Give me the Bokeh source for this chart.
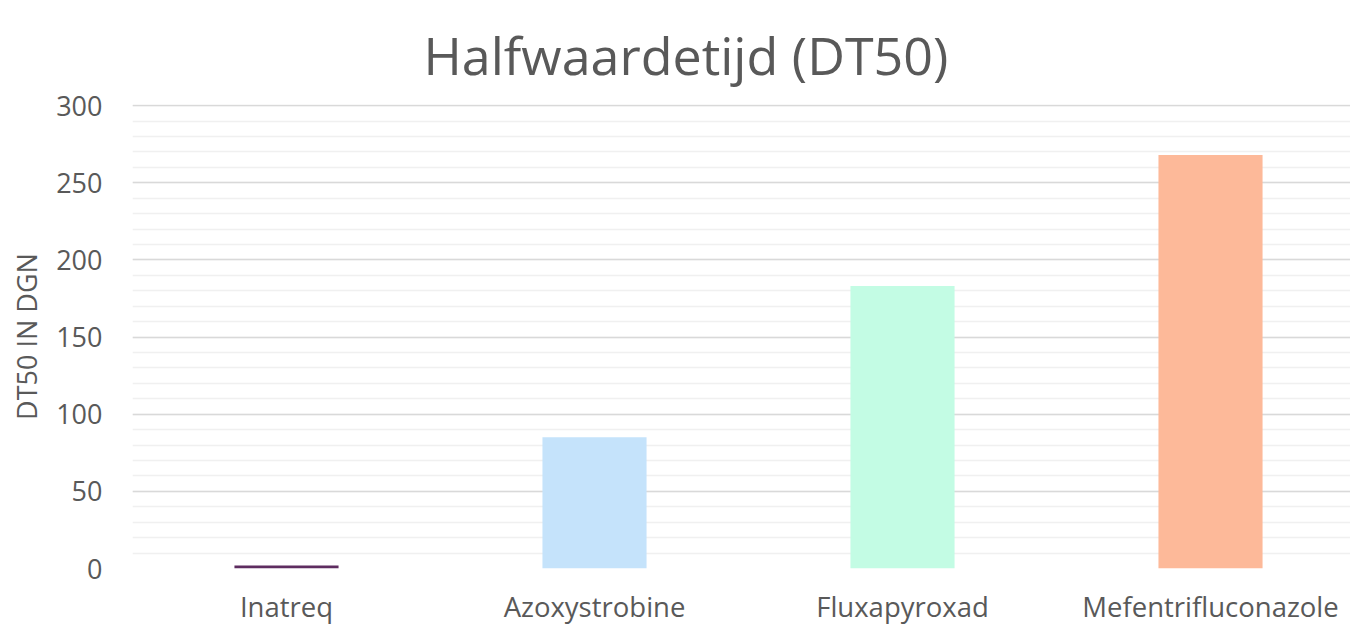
from bokeh.plotting import figure
from bokeh.models import Title, FixedTicker, Range1d
from bokeh.embed import file_html
from bokeh.resources import INLINE

categories = ["Inatreq", "Azoxystrobine", "Fluxapyroxad", "Mefentrifluconazole"]
values = [2, 85, 183, 268]
colors = ["#5e2d60", "#c5e3fb", "#c3fce4", "#fdb999"]
y_ticks = [0, 50, 100, 150, 200, 250, 300]
minor_ticks = [v for v in range(0, 301, 10)]
title_text = "Halfwaardetijd (DT50)"

FONT = "Open Sans"
GREY = "#595959"

xpos = list(range(len(categories)))

p = figure(x_range=Range1d(-0.5, 3.4545), y_range=Range1d(0, 300.7), width=1350, height=628,
           output_backend="svg", toolbar_location=None, title=None,
           min_border_left=132, min_border_right=0, min_border_top=104, min_border_bottom=60)
p.outline_line_color = None

t = Title(text=title_text, align="left", offset=291, text_font=FONT,
          text_font_size="52px", text_color=GREY, text_font_style="normal",
          standoff=30, text_line_height=0.8)
p.add_layout(t, "above")

p.vbar(x=xpos, top=values, width=0.338, color=colors, line_color=None)

p.xgrid.grid_line_color = None
p.ygrid.ticker = FixedTicker(ticks=y_ticks, minor_ticks=minor_ticks)
p.ygrid.grid_line_color = "#d9d9d9"
p.ygrid.grid_line_width = 1.5
p.ygrid.minor_grid_line_color = "#f0f0f0"
p.ygrid.minor_grid_line_width = 1.5
p.ygrid.level = "underlay"

p.yaxis.ticker = FixedTicker(ticks=y_ticks)
p.yaxis.axis_line_color = None
p.yaxis.major_tick_line_color = None
p.yaxis.minor_tick_line_color = None
p.yaxis.major_tick_out = 0
p.yaxis.major_tick_in = 0
p.yaxis.major_label_text_font = FONT
p.yaxis.major_label_text_font_size = "27px"
p.yaxis.major_label_text_color = GREY
p.yaxis.major_label_standoff = 30
p.yaxis.axis_label = "DT50 IN DGN"
p.yaxis.axis_label_text_font = FONT
p.yaxis.axis_label_text_font_size = "27px"
p.yaxis.axis_label_text_font_style = "normal"
p.yaxis.axis_label_text_color = GREY
p.yaxis.axis_label_standoff = 8

p.xaxis.ticker = FixedTicker(ticks=xpos)
p.xaxis.major_label_overrides = {i: c for i, c in zip(xpos, categories)}
p.xaxis.axis_line_color = None
p.xaxis.major_tick_line_color = None
p.xaxis.minor_tick_line_color = None
p.xaxis.major_tick_out = 0
p.xaxis.major_tick_in = 0
p.xaxis.major_label_text_font = FONT
p.xaxis.major_label_text_font_size = "27.5px"
p.xaxis.major_label_text_color = GREY
p.xaxis.major_label_standoff = 19

open("out.html", "w").write(file_html(p, INLINE))
